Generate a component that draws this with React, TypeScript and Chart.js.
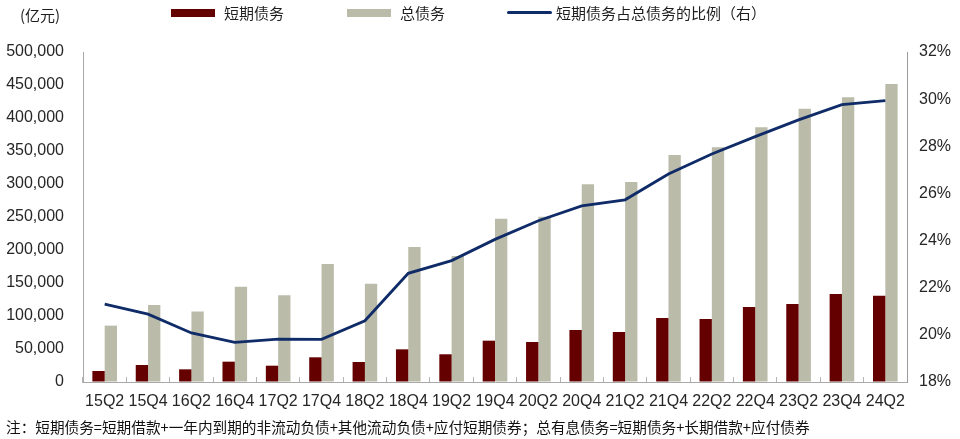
import React, { useEffect, useRef } from 'react';
import { Chart, registerables } from 'chart.js';

Chart.register(...registerables);

const categories = ['15Q2', '15Q4', '16Q2', '16Q4', '17Q2', '17Q4', '18Q2', '18Q4', '19Q2', '19Q4', '20Q2', '20Q4', '21Q2', '21Q4', '22Q2', '22Q4', '23Q2', '23Q4', '24Q2'];
const shortDebt = [16700, 25800, 19200, 30800, 24700, 37400, 30300, 49500, 42000, 62600, 60600, 78800, 75800, 97000, 95500, 113600, 118200, 133300, 130800];
const totalDebt = [85400, 116700, 107000, 144400, 131300, 178800, 149000, 204500, 191000, 247400, 250500, 299500, 303000, 344000, 355500, 385900, 414100, 431300, 451500];
const shortRatio = [21.3, 20.88, 20.08, 19.68, 19.82, 19.81, 20.6, 22.61, 23.15, 24.05, 24.84, 25.47, 25.73, 26.82, 27.67, 28.41, 29.12, 29.77, 29.94];

const seriesNames = ['短期债务', '总债务', '短期债务占总债务的比例（右）'];
const unitLabel = '(亿元)';
const noteText = '注：短期债务=短期借款+一年内到期的非流动负债+其他流动负债+应付短期债券；总有息债务=短期债务+长期借款+应付债券';

const leftMin = 0;
const leftMax = 500000;
const leftStep = 50000;
const rightMin = 18;
const rightMax = 32;
const rightStep = 2;

const COLOR_SHORT = '#650000';
const COLOR_TOTAL = '#bbbbaa';
const COLOR_LINE = '#0f2b68';
const TEXT = '#262626';
const AXIS = '#a9a9a9';
const CJK = '"Noto Sans CJK SC", "Noto Sans", sans-serif';
const LATIN = '"Liberation Sans", Arial, sans-serif';

export default function App() {
  const ref = useRef<HTMLCanvasElement | null>(null);

  useEffect(() => {
    if (!ref.current) return;
    const chart = new Chart(ref.current, {
      type: 'bar',
      data: {
        labels: categories,
        datasets: [
          {
            type: 'line',
            label: seriesNames[2],
            data: shortRatio,
            yAxisID: 'y1',
            borderColor: COLOR_LINE,
            borderWidth: 2.8,
            pointRadius: 0,
            tension: 0,
            fill: false,
            order: 0,
          },
          {
            label: seriesNames[0],
            data: shortDebt,
            backgroundColor: COLOR_SHORT,
            yAxisID: 'y',
            barPercentage: 1,
            categoryPercentage: 0.568,
            order: 1,
          },
          {
            label: seriesNames[1],
            data: totalDebt,
            backgroundColor: COLOR_TOTAL,
            yAxisID: 'y',
            barPercentage: 1,
            categoryPercentage: 0.568,
            order: 2,
          },
        ],
      },
      options: {
        responsive: false,
        animation: false,
        devicePixelRatio: 1,
        layout: { padding: { top: 52, left: 0, right: 0, bottom: 0 } },
        plugins: {
          legend: { display: false },
          tooltip: { enabled: false },
          title: { display: false },
        },
        scales: {
          x: {
            type: 'category',
            offset: true,
            grid: {
              offset: true,
              drawOnChartArea: false,
              drawTicks: true,
              tickLength: -5,
              color: '#b5b5b5',
              lineWidth: 1,
            },
            border: { display: true, color: AXIS, width: 1 },
            ticks: {
              autoSkip: false,
              maxRotation: 0,
              minRotation: 0,
              padding: 15,
              color: TEXT,
              font: { family: LATIN, size: 16 },
            },
            afterFit: (s: any) => {
              s.height = 57;
            },
          },
          y: {
            position: 'left',
            min: leftMin,
            max: leftMax,
            grid: { drawOnChartArea: false, drawTicks: false },
            border: { display: true, color: AXIS, width: 1 },
            ticks: {
              stepSize: leftStep,
              padding: 19,
              color: TEXT,
              font: { family: LATIN, size: 16 },
              callback: (v: any) => Number(v).toLocaleString('en-US'),
            },
            afterFit: (s: any) => {
              s.width = 83;
            },
          },
          y1: {
            position: 'right',
            min: rightMin,
            max: rightMax,
            grid: { drawOnChartArea: false, drawTicks: false },
            border: { display: true, color: '#9a9a9a', width: 1 },
            ticks: {
              stepSize: rightStep,
              padding: 12,
              color: TEXT,
              font: { family: LATIN, size: 16 },
              callback: (v: any) => `${v}%`,
            },
            afterFit: (s: any) => {
              s.width = 53;
            },
          },
        },
      },
    });
    return () => chart.destroy();
  }, []);

  const textBase: React.CSSProperties = {
    position: 'absolute',
    fontFamily: CJK,
    fontSize: 15,
    lineHeight: '20px',
    color: '#1e1e1e',
    whiteSpace: 'nowrap',
  };

  return (
    <div style={{ position: 'absolute', left: 0, top: 0, width: 960, height: 439, background: '#fff', overflow: 'hidden' }}>
      <canvas ref={ref} width={960} height={439} style={{ display: 'block', width: 960, height: 439 }} />
      <span style={{ ...textBase, left: 20, top: 5 }}>{unitLabel}</span>
      <div style={{ position: 'absolute', left: 171, top: 8.5, width: 44, height: 8, background: COLOR_SHORT }} />
      <span style={{ ...textBase, left: 224, top: 3 }}>{seriesNames[0]}</span>
      <div style={{ position: 'absolute', left: 347, top: 8.5, width: 44, height: 8, background: COLOR_TOTAL }} />
      <span style={{ ...textBase, left: 400, top: 3 }}>{seriesNames[1]}</span>
      <div style={{ position: 'absolute', left: 507, top: 11, width: 45, height: 3, borderRadius: 2, background: COLOR_LINE }} />
      <span style={{ ...textBase, left: 556, top: 3 }}>{seriesNames[2]}</span>
      <span style={{ ...textBase, left: 6, top: 417, fontSize: 14.65, color: '#111' }}>{noteText}</span>
    </div>
  );
}
